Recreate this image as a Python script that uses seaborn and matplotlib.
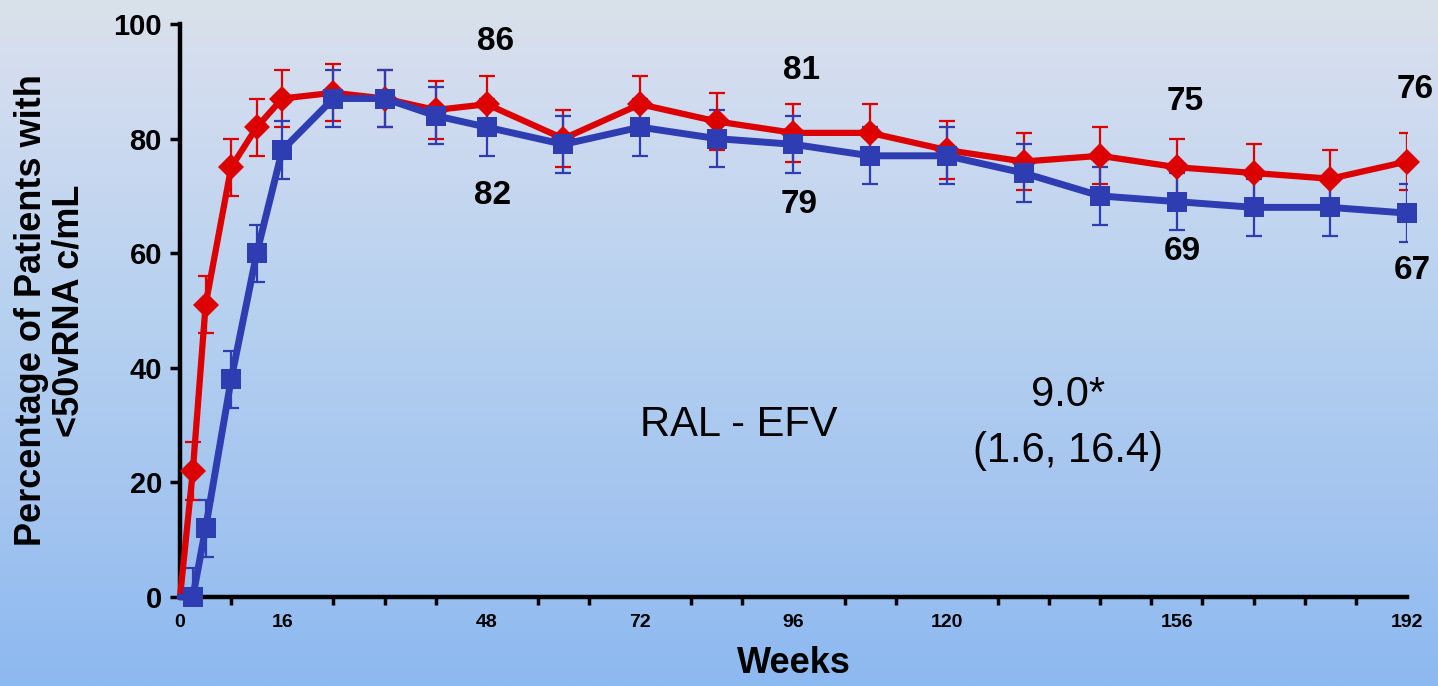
import numpy as np
import pandas as pd
import seaborn as sns
import matplotlib.pyplot as plt
from matplotlib.colors import LinearSegmentedColormap
from matplotlib.ticker import MultipleLocator

sns.set_theme(style="white")
plt.rcParams['font.family'] = ['Liberation Sans', 'DejaVu Sans']
plt.rcParams.update({'text.color': 'black', 'axes.labelcolor': 'black',
                     'xtick.color': 'black', 'ytick.color': 'black'})

# data
weeks = [0, 2, 4, 8, 12, 16, 24, 32, 40, 48, 60, 72, 84, 96, 108, 120,
         132, 144, 156, 168, 180, 192]
ral = [0, 22, 51, 75, 82, 87, 88, 87, 85, 86, 80, 86, 83, 81, 81, 78,
       76, 77, 75, 74, 73, 76]
efv = [0, 0, 12, 38, 60, 78, 87, 87, 84, 82, 79, 82, 80, 79, 77, 77,
       74, 70, 69, 68, 68, 67]
ral_err = [0, 5, 5, 5, 5, 5, 5, 5, 5, 5, 5, 5, 5, 5, 5, 5, 5, 5, 5, 5, 5, 5]
efv_err_lo = [0, 0, 5, 5, 5, 5, 5, 5, 5, 5, 5, 5, 5, 5, 5, 5, 5, 5, 5, 5, 5, 5]
efv_err_hi = [0, 5, 5, 5, 5, 5, 5, 5, 5, 5, 5, 5, 5, 5, 5, 5, 5, 5, 5, 5, 5, 5]

label_weeks = [48, 96, 156, 192]
ral_labels = [86, 81, 75, 76]
efv_labels = [82, 79, 69, 67]

xtick_vals = [0, 16, 48, 72, 96, 120, 156, 192]

RED = '#dd0000'
BLUE = '#2f3db2'

df = pd.DataFrame({'Weeks': weeks * 2,
                   'pct': ral + efv,
                   'arm': ['RAL'] * len(weeks) + ['EFV'] * len(weeks)})

fig = plt.figure(figsize=(14.38, 6.86), dpi=100)

# gradient background
bg = fig.add_axes([0, 0, 1, 1], zorder=-10)
cmap = LinearSegmentedColormap.from_list(
    'bg', [(0.0, '#d9e1ea'), (0.1, '#d4ddef'), (0.45, '#b7d1f0'),
           (0.75, '#a3c4ef'), (1.0, '#8cb9f1')])
bg.imshow(np.linspace(0, 1, 256).reshape(-1, 1), aspect='auto', cmap=cmap,
          extent=[0, 1, 0, 1])
bg.set_axis_off()

ax = fig.add_axes([0.1252, 0.1297, 0.8532, 0.8353])
ax.set_facecolor('none')

ax.errorbar(weeks, ral, yerr=ral_err, fmt='none', ecolor=RED, elinewidth=1.6,
            capsize=6, capthick=1.6, zorder=2)
ax.errorbar(weeks, efv, yerr=[efv_err_lo, efv_err_hi], fmt='none', ecolor=BLUE,
            elinewidth=1.6, capsize=6, capthick=1.6, zorder=2)

sns.lineplot(data=df[df.arm == 'RAL'], x='Weeks', y='pct', color=RED,
             marker='D', markersize=13, linewidth=4.5, markeredgewidth=0,
             markevery=slice(1, None), ax=ax, zorder=3, clip_on=False)
sns.lineplot(data=df[df.arm == 'EFV'], x='Weeks', y='pct', color=BLUE,
             marker='s', markersize=14, linewidth=5, markeredgewidth=0,
             markevery=slice(1, None), ax=ax, zorder=4, clip_on=False)

# value labels
ral_off = [45, 45, 47, 52]
efv_off = [-49, -43, -36, -41]
for w, lab, off in zip(label_weeks, ral_labels, ral_off):
    ax.annotate(str(lab), (w, ral[weeks.index(w)]), xytext=(6, off),
                textcoords='offset points', ha='center', va='center',
                fontsize=24, fontweight='bold')
for w, lab, off in zip(label_weeks, efv_labels, efv_off):
    ax.annotate(str(lab), (w, efv[weeks.index(w)]), xytext=(4, off),
                textcoords='offset points', ha='center', va='center',
                fontsize=24, fontweight='bold')

ax.text(0.455, 0.30, 'RAL - EFV', transform=ax.transAxes, ha='center',
        va='center', fontsize=30)
ax.text(0.724, 0.352, '9.0*', transform=ax.transAxes, ha='center',
        va='center', fontsize=30)
ax.text(0.724, 0.255, '(1.6, 16.4)', transform=ax.transAxes, ha='center',
        va='center', fontsize=30)

ax.set_xlim(0, 192)
ax.set_ylim(0, 100)
ax.set_xticks(xtick_vals)
ax.set_xticklabels([str(t) for t in xtick_vals])
ax.xaxis.set_minor_locator(MultipleLocator(8))
ax.set_yticks([0, 20, 40, 60, 80, 100])
ax.tick_params(axis='x', which='major', length=0, pad=12, labelsize=14)
ax.tick_params(axis='x', which='minor', length=6, width=2.5, direction='out',
               bottom=True)
ax.tick_params(axis='y', which='major', length=7, width=2.5, direction='out',
               left=True, pad=6, labelsize=21)
for lab in ax.get_xticklabels() + ax.get_yticklabels():
    lab.set_fontweight('bold')

for s in ['top', 'right']:
    ax.spines[s].set_visible(False)
for s in ['left', 'bottom']:
    ax.spines[s].set_linewidth(3.2)
    ax.spines[s].set_color('black')

ax.set_xlabel('Weeks', fontsize=26, fontweight='bold', va='center')
ax.xaxis.set_label_coords(0.5, -0.116)
ax.set_ylabel('Percentage of Patients with\n<50vRNA c/mL', fontsize=26,
              fontweight='bold', linespacing=1.1, va='center')
ax.yaxis.set_label_coords(-0.106, 0.5)

fig.savefig('out.png', dpi=100)
